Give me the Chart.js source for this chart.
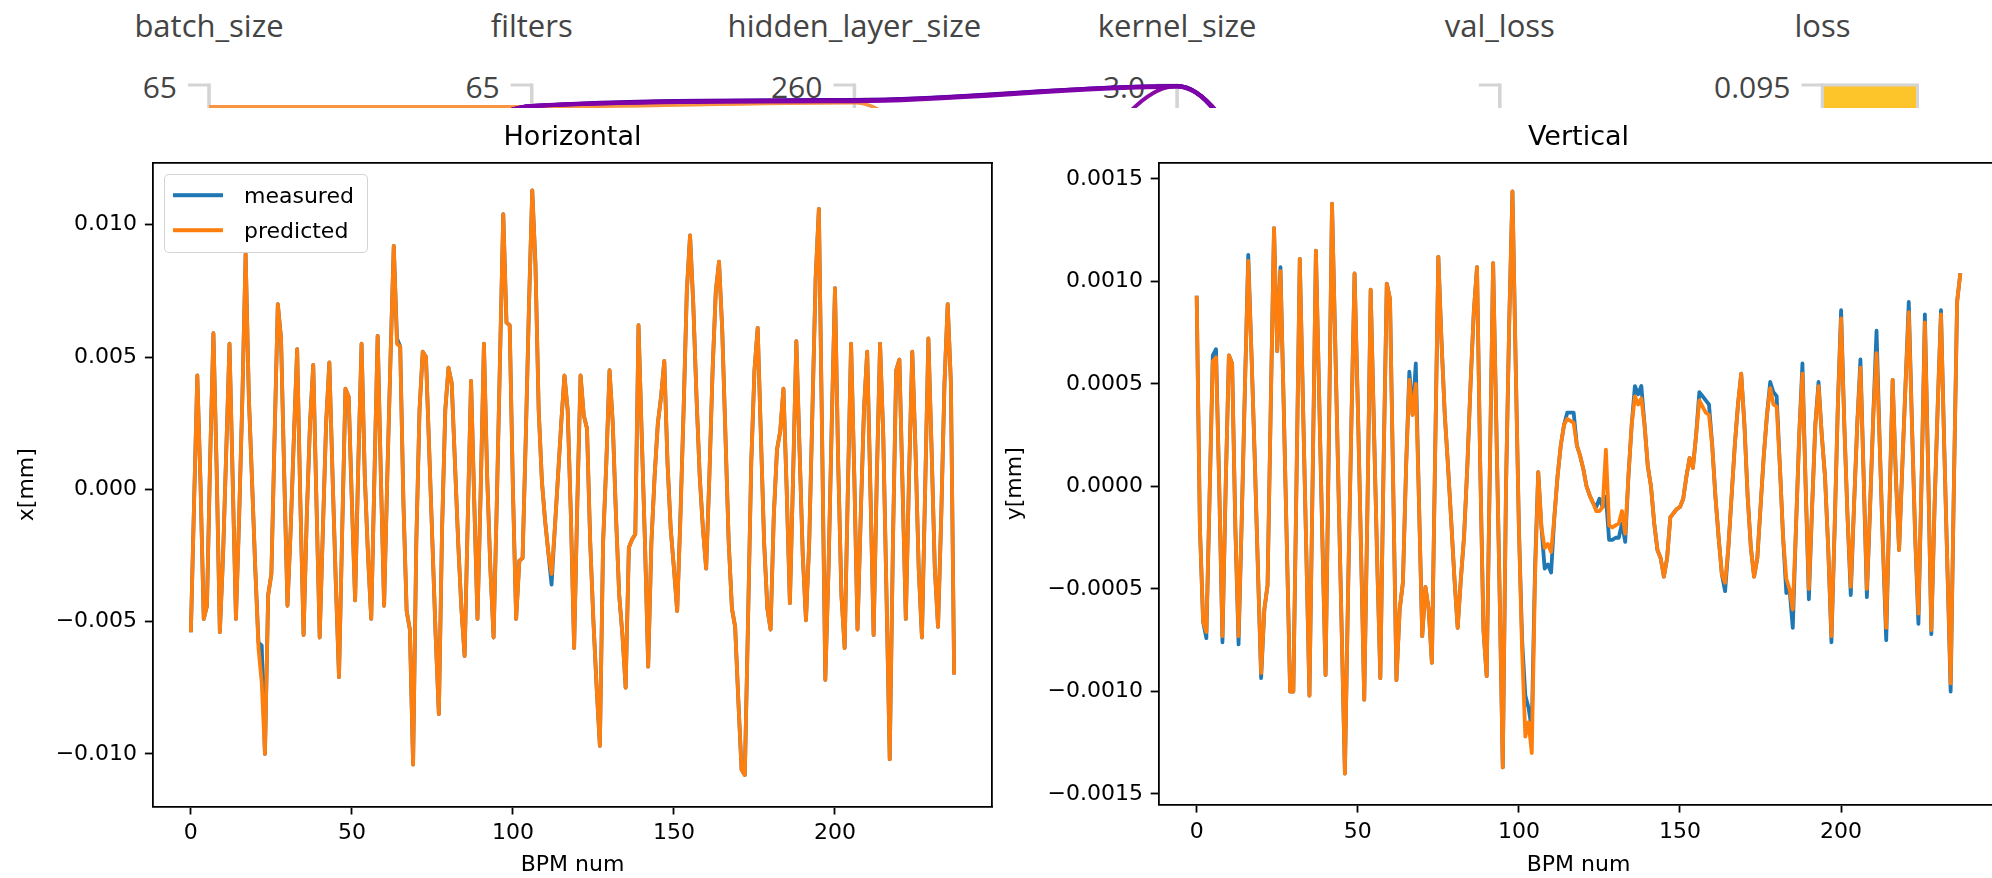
<!DOCTYPE html>
<html>
<head>
<meta charset="utf-8">
<title>Horizontal / Vertical</title>
<script src="https://cdn.jsdelivr.net/npm/chart.js@4.4.1/dist/chart.umd.min.js"></script>
<style>
  html, body { margin: 0; padding: 0; background: #fff; }
  #page { position: relative; width: 1992px; height: 878px; overflow: hidden; background: #fff; }
  #strip { position: absolute; left: 0; top: 0; width: 1992px; height: 108px; overflow: hidden; }
  #strip canvas { position: absolute; left: 0; top: 0; }
  .dim, .dimtick { position: absolute; font-family: "Open Sans", sans-serif; color: #444; font-size: 31px; white-space: nowrap; line-height: normal; }
  .dim { transform: translate(-50%, -50%); }
  .dimtick { font-size: 30px; transform: translate(-100%, -50%); }
  #hz { position: absolute; left: 0; top: 110px; }
  #vt { position: absolute; left: 990px; top: 110px; }
  .mlegend { position: absolute; box-sizing: border-box; border: 1.5px solid rgba(204,204,204,0.85); border-radius: 5px; background: rgba(255,255,255,0.8); z-index: 5; }
  .mlegend .hl { position: absolute; height: 3.6px; transform: translateY(-50%); }
  .mlegend .tx { position: absolute; font-family: "DejaVu Sans", sans-serif; font-size: 22px; color: #000; transform: translateY(-50%); white-space: nowrap; line-height: normal; }
</style>
</head>
<body>
<div id="page">
  <div id="strip"><canvas id="strip-chart" width="1992" height="900"></canvas></div>
  <canvas id="hz" width="1145" height="768"></canvas>
  <canvas id="vt" width="1177" height="768"></canvas>
  <div class="mlegend" style="left:164px; top:174px; width:204px; height:79px;">
    <div class="hl" style="left:8px; top:20px; width:50px; background:#1f77b4;"></div>
    <div class="tx" style="left:79px; top:20px;">measured</div>
    <div class="hl" style="left:8px; top:55px; width:50px; background:#ff7f0e;"></div>
    <div class="tx" style="left:79px; top:55px;">predicted</div>
  </div>
</div>
<script>
// ---- parallel coordinates strip (cropped at the top of the screenshot) ----
const dims = ['batch_size', 'filters', 'hidden_layer_size', 'kernel_size', 'val_loss', 'loss'];
const dimTopLabels = ['65', '65', '260', '3.0', '', '0.095'];
// each run: normalised position on every axis (1 = top of the axis)
const runA = [0.450, 0.975, 0.981, 0.999, 0.26, 0.40];
const runB = [0.500, 0.975, 0.982, 1.000, 0.18, 0.35];
const runC = [0.550, 0.975, 0.9825, 1.000, 0.22, 0.30];
const runD = [0.300, 0.350, 0.400, 1.000, 0.20, 0.35];
const runE = [0.974, 0.974, 0.979, 0.460, 0.50, 0.90];

// ---- BPM orbit data ----
const bpmTicks = [0, 50, 100, 150, 200];
const xTickValues = [-0.010, -0.005, 0, 0.005, 0.010];
const yTickValues = [-0.0015, -0.0010, -0.0005, 0, 0.0005, 0.0010, 0.0015];

// horizontal orbit, values in 1e-3 mm
const measuredX = [
  -5.4, -0.5, 4.3, 0.2, -4.9, -4.4, 1.2, 5.9, 0.8, -5.4,
  -2.5, 1.5, 5.5, 0.3, -4.9, -1.0, 3.5, 8.9, 3.5, 0.3,
  -3.0, -5.8, -5.9, -10.0, -4.0, -3.2, 2.0, 7.0, 5.7, 0.5,
  -4.4, -1.5, 2.0, 5.3, -0.5, -5.5, -1.0, 2.5, 4.7, -0.5,
  -5.6, -1.5, 2.5, 4.8, 0.5, -3.5, -7.1, -1.5, 3.8, 3.5,
  -0.5, -4.2, 1.0, 5.5, 0.5, -2.5, -4.9, 0.5, 5.8, 0.5,
  -4.4, 0.5, 5.0, 9.2, 5.7, 5.4, -0.5, -4.6, -5.3, -10.4,
  -2.0, 3.0, 5.2, 5.0, 1.5, -2.0, -5.5, -8.5, -1.5, 3.0,
  4.6, 4.0, 1.0, -2.0, -4.5, -6.3, -1.0, 4.1, -0.5, -4.9,
  0.0, 5.5, 0.5, -3.0, -5.6, -0.5, 5.0, 10.4, 6.3, 6.2,
  0.0, -4.9, -2.7, -2.6, 2.0, 7.0, 11.3, 8.5, 3.0, 0.3,
  -1.2, -2.4, -3.6, -1.5, 0.5, 2.5, 4.3, 3.0, -1.0, -6.0,
  -0.5, 4.3, 2.8, 2.3, -2.0, -5.0, -7.5, -9.7, -2.0, 1.0,
  4.5, 2.5, -1.0, -4.0, -5.5, -7.5, -2.2, -1.9, -1.7, 6.2,
  2.0, -2.0, -6.7, -2.0, 0.5, 2.5, 3.5, 4.85, 1.0, -1.5,
  -3.0, -4.6, -1.0, 3.0, 7.5, 9.6, 7.0, 3.5, 0.5, -1.5,
  -3.0, 0.5, 4.5, 7.5, 8.6, 6.0, 2.0, -2.0, -4.5, -5.2,
  -8.0, -10.6, -10.8, -5.0, 1.0, 4.5, 6.1, 2.0, -2.0, -4.5,
  -5.3, -1.0, 1.5, 2.2, 3.8, 0.0, -4.3, 0.5, 5.6, 1.5,
  -2.5, -4.95, -2.0, 3.0, 8.0, 10.6, 2.0, -7.2, -3.0, 2.5,
  7.6, 1.0, -4.0, -6.0, 0.0, 5.5, 0.5, -5.3, -1.0, 3.0,
  5.2, 0.0, -5.5, 0.5, 5.5, 2.0, -4.0, -10.2, -2.0, 4.5,
  4.9, 0.0, -4.9, 0.5, 5.2, 1.5, -3.0, -5.6, 0.0, 5.7,
  1.5, -3.0, -5.2, -1.0, 4.0, 7.0, 4.0, -7.0
];
// points where the predicted horizontal trace departs from the measured one
const predictedXDiffs = [[21, -6.0], [22, -7.3], [64, 5.5], [112, -3.2], [152, -1.2]];

// vertical orbit, values in 1e-4 mm
const measuredY = [
  9.3, -2.0, -6.6, -7.4, -0.5, 6.4, 6.7, 0.0, -7.6, 0.0,
  6.4, 6.0, -2.0, -7.7, -1.5, 5.0, 11.3, 6.5, 1.5, -4.0,
  -9.35, -6.0, -4.8, 4.0, 12.6, 6.6, 10.7, 4.0, -3.0, -10.0,
  -10.0, 0.5, 11.1, 4.0, -3.0, -10.2, 0.5, 11.5, 4.5, -2.5,
  -9.2, 2.0, 13.8, 7.0, 0.0, -7.0, -14.0, -5.0, 3.0, 10.4,
  4.0, -3.0, -10.4, -1.0, 9.6, 3.0, -3.5, -9.35, 1.0, 9.9,
  9.15, 0.0, -9.45, -6.0, -4.7, 1.0, 5.6, 3.5, 6.0, -0.8,
  -7.3, -4.9, -6.0, -8.6, 1.5, 11.2, 7.0, 3.5, 1.0, -1.7,
  -4.5, -6.9, -4.5, -2.4, 1.0, 5.0, 8.5, 10.7, 1.0, -7.0,
  -9.25, 1.0, 10.9, 3.0, -5.0, -13.7, 0.0, 8.0, 14.4, 6.0,
  -2.0, -7.5, -10.2, -10.8, -11.8, -4.0, 0.7, -2.0, -4.0, -3.8,
  -4.2, -1.5, 0.5, 2.0, 3.0, 3.6, 3.6, 3.6, 2.0, 1.5,
  0.85, 0.0, -0.45, -0.8, -1.0, -0.6, -1.0, -0.5, -2.6, -2.6,
  -2.5, -2.5, -1.8, -2.7, 0.5, 3.0, 4.9, 4.5, 4.9, 3.0,
  1.0, 0.0, -1.8, -3.1, -3.5, -4.4, -3.5, -1.5, -1.3, -1.1,
  -1.0, -0.6, 0.5, 1.4, 0.9, 2.5, 4.6, 4.4, 4.2, 4.0,
  2.0, -0.5, -2.5, -4.3, -5.1, -3.0, -0.5, 2.0, 4.0, 5.5,
  3.0, -0.5, -3.0, -4.4, -3.5, -1.0, 1.5, 3.5, 5.1, 4.6,
  4.4, 1.0, -2.5, -5.2, -5.0, -6.9, -2.0, 2.5, 6.0, 0.0,
  -5.5, -1.0, 3.0, 5.1, 2.5, 0.5, -3.0, -7.6, -2.0, 4.0,
  8.6, 3.0, -1.5, -5.3, -1.0, 3.0, 6.2, 0.5, -5.4, -1.0,
  3.5, 7.6, 2.0, -3.0, -7.5, -1.0, 5.2, 0.5, -3.1, 1.0,
  5.0, 9.0, 3.0, -2.5, -6.7, 0.5, 8.4, 1.0, -7.2, -1.0,
  4.0, 8.6, 2.0, -4.0, -10.0, 0.0, 9.0, 10.4
];
const predictedYDiffs = [
  [3, -7.1], [5, 6.1], [6, 6.3], [8, -7.3], [13, -7.3], [16, 11.0], [20, -9.1], [26, 10.5],
  [66, 5.2], [68, 5.0],
  [101, -8.0], [102, -12.2], [103, -11.5], [104, -13.0], [105, -4.5],
  [108, -3.0], [109, -2.8], [110, -3.2], [115, 3.3], [116, 3.2], [117, 3.1],
  [124, -1.2], [125, -1.2], [127, 1.8], [128, -1.9], [129, -2.0], [130, -1.9], [131, -1.8], [132, -1.2], [133, -2.3],
  [136, 4.4], [137, 4.0], [138, 4.3], [156, 4.2], [157, 3.9], [158, 3.6], [159, 3.5], [164, -4.7],
  [178, 4.8], [179, 4.0], [180, 3.9], [183, -4.5], [185, -6.0], [188, 5.5], [190, -5.0], [193, 4.9],
  [197, -7.3], [200, 8.2], [203, -4.9], [206, 5.8], [208, -5.0], [211, 6.5], [214, -6.9],
  [221, 8.5], [224, -6.2], [226, 8.0], [228, -7.0], [231, 8.4], [234, -9.6]
];

function withDiffs(base, diffs) {
  const out = base.slice();
  diffs.forEach(([i, v]) => { out[i] = v; });
  return out;
}
const predictedX = withDiffs(measuredX, predictedXDiffs);
const predictedY = withDiffs(measuredY, predictedYDiffs);

Chart.defaults.font.family = 'DejaVu Sans';

// ---- strip chart ----
const stripColors = ['#7e03a8', '#6a00a8', '#5402a3', '#8b0aa5', '#f89540'];
const stripAxes = {
  id: 'stripAxes',
  beforeDatasetsDraw(chart) {
    const { ctx, chartArea, scales: { x, y } } = chart;
    const top = y.getPixelForValue(1);
    ctx.save();
    ctx.strokeStyle = '#d4d4d4';
    dims.forEach((d, i) => {
      const px = x.getPixelForValue(i);
      ctx.lineWidth = 3.6;
      ctx.beginPath(); ctx.moveTo(px, top - 2.5); ctx.lineTo(px, chartArea.bottom); ctx.stroke();
      ctx.lineWidth = 3;
      ctx.beginPath(); ctx.moveTo(px - 21, top - 1); ctx.lineTo(px, top - 1); ctx.stroke();
    });
    // colour bar on the loss axis
    const lx = x.getPixelForValue(dims.length - 1);
    ctx.fillStyle = '#fdc52a';
    ctx.fillRect(lx, top, 95, chartArea.bottom - top);
    ctx.lineWidth = 3;
    ctx.strokeRect(lx, top - 1, 95, chartArea.bottom - top);
    ctx.restore();
  }
};

const stripChart = new Chart(document.getElementById('strip-chart'), {
  type: 'line',
  data: {
    datasets: [runA, runB, runC, runD, runE].map((run, k) => ({
      data: run.map((v, i) => ({ x: i, y: v })),
      borderColor: stripColors[k],
      borderWidth: k === 4 ? 3.5 : 4,
      order: k === 4 ? 1 : 0,
      pointRadius: 0,
      cubicInterpolationMode: 'monotone',
      clip: 10
    }))
  },
  options: {
    responsive: false, animation: false, events: [], devicePixelRatio: 1,
    layout: { padding: { top: 86, bottom: 14, left: 0, right: 0 } },
    plugins: { legend: { display: false }, tooltip: { enabled: false } },
    scales: {
      x: { type: 'linear', min: -0.6477, max: 5.5253, display: false },
      y: { type: 'linear', min: 0, max: 1, display: false }
    }
  },
  plugins: [stripAxes]
});

// axis names and top values, placed from the strip's own x scale
(function placeStripText() {
  const strip = document.getElementById('strip');
  const xs = stripChart.scales.x;
  dims.forEach((name, i) => {
    const px = xs.getPixelForValue(i);
    const t = document.createElement('div');
    t.className = 'dim';
    t.textContent = name;
    t.style.left = px + 'px';
    t.style.top = '25px';
    strip.insertBefore(t, strip.firstChild);
    if (dimTopLabels[i]) {
      const v = document.createElement('div');
      v.className = 'dimtick';
      v.textContent = dimTopLabels[i];
      v.style.left = (px - 32) + 'px';
      v.style.top = '85.5px';
      strip.insertBefore(v, strip.firstChild);
    }
  });
})();

// ---- orbit plots ----
function orbitChart(id, cfg) {
  const font = { family: 'DejaVu Sans', size: 22, weight: 'normal', lineHeight: 1.2 };
  const fmt = v => (v < 0 ? '\u2212' : '') + Math.abs(v).toFixed(cfg.decimals);
  const spine = { display: true, color: '#000', width: 1.8 };
  const tickGrid = { drawOnChartArea: false, drawTicks: true, tickLength: 7.8, tickColor: '#000', tickWidth: 1.8 };
  return new Chart(document.getElementById(id), {
    type: 'line',
    data: {
      datasets: [
        // predicted is drawn over measured, as in the matplotlib figure
        { label: 'measured', order: 1, data: cfg.measured.map((v, i) => ({ x: i, y: v * cfg.unit })),
          borderColor: '#1f77b4', borderWidth: 3.8, pointRadius: 0, borderJoinStyle: 'round' },
        { label: 'predicted', order: 0, data: cfg.predicted.map((v, i) => ({ x: i, y: v * cfg.unit })),
          borderColor: '#ff7f0e', borderWidth: 3.8, pointRadius: 0, borderJoinStyle: 'round' }
      ]
    },
    options: {
      responsive: false, animation: false, events: [], devicePixelRatio: 1,
      layout: { padding: 0 },
      plugins: {
        legend: { display: false },
        tooltip: { enabled: false },
        title: { display: true, text: cfg.title, color: '#000',
                 font: { family: 'DejaVu Sans', size: 27, weight: 'normal', lineHeight: 1.2 },
                 padding: { top: 11.8, bottom: 8.5 } }
      },
      scales: {
        x: {
          type: 'linear', position: 'bottom', min: -11.85, max: 248.85,
          afterBuildTicks: s => { s.ticks = bpmTicks.map(v => ({ value: v })); },
          afterFit: s => { s.height = cfg.xAxisHeight; },
          grid: tickGrid, border: spine,
          ticks: { color: '#000', font, padding: cfg.xTickPad, maxRotation: 0, autoSkip: false, callback: v => String(v) },
          title: { display: true, text: 'BPM num', color: '#000', font, padding: { top: 0, bottom: 0 } }
        },
        x2: {
          type: 'linear', position: 'top', grid: { display: false }, ticks: { display: false }, border: spine,
          afterFit: s => { s.height = 0; }
        },
        y: {
          type: 'linear', position: 'left', min: cfg.yMin, max: cfg.yMax,
          afterBuildTicks: s => { s.ticks = cfg.yTicks.map(v => ({ value: v })); },
          afterFit: s => { s.width = cfg.side; },
          grid: tickGrid, border: spine,
          ticks: { color: '#000', font, padding: 7.8, autoSkip: false, callback: fmt },
          title: { display: true, text: cfg.ylabel, color: '#000', font, padding: { top: cfg.ylabelPad, bottom: 0 } }
        },
        y2: {
          type: 'linear', position: 'right', grid: { display: false }, ticks: { display: false }, border: spine,
          afterFit: s => { s.width = cfg.side; }
        }
      }
    }
  });
}

orbitChart('hz', {
  title: 'Horizontal', ylabel: 'x[mm]', unit: 1e-3,
  measured: measuredX, predicted: predictedX,
  yMin: -0.011995, yMax: 0.012343, yTicks: xTickValues, decimals: 3,
  side: 152.7, xAxisHeight: 71.3, xTickPad: 5.3, ylabelPad: 13.8
});

orbitChart('vt', {
  title: 'Vertical', ylabel: 'y[mm]', unit: 1e-4,
  measured: measuredY, predicted: predictedY,
  yMin: -0.0015527, yMax: 0.0015795, yTicks: yTickValues, decimals: 4,
  side: 168.5, xAxisHeight: 73.2, xTickPad: 6.7, ylabelPad: 11.8
});
</script>
</body>
</html>
